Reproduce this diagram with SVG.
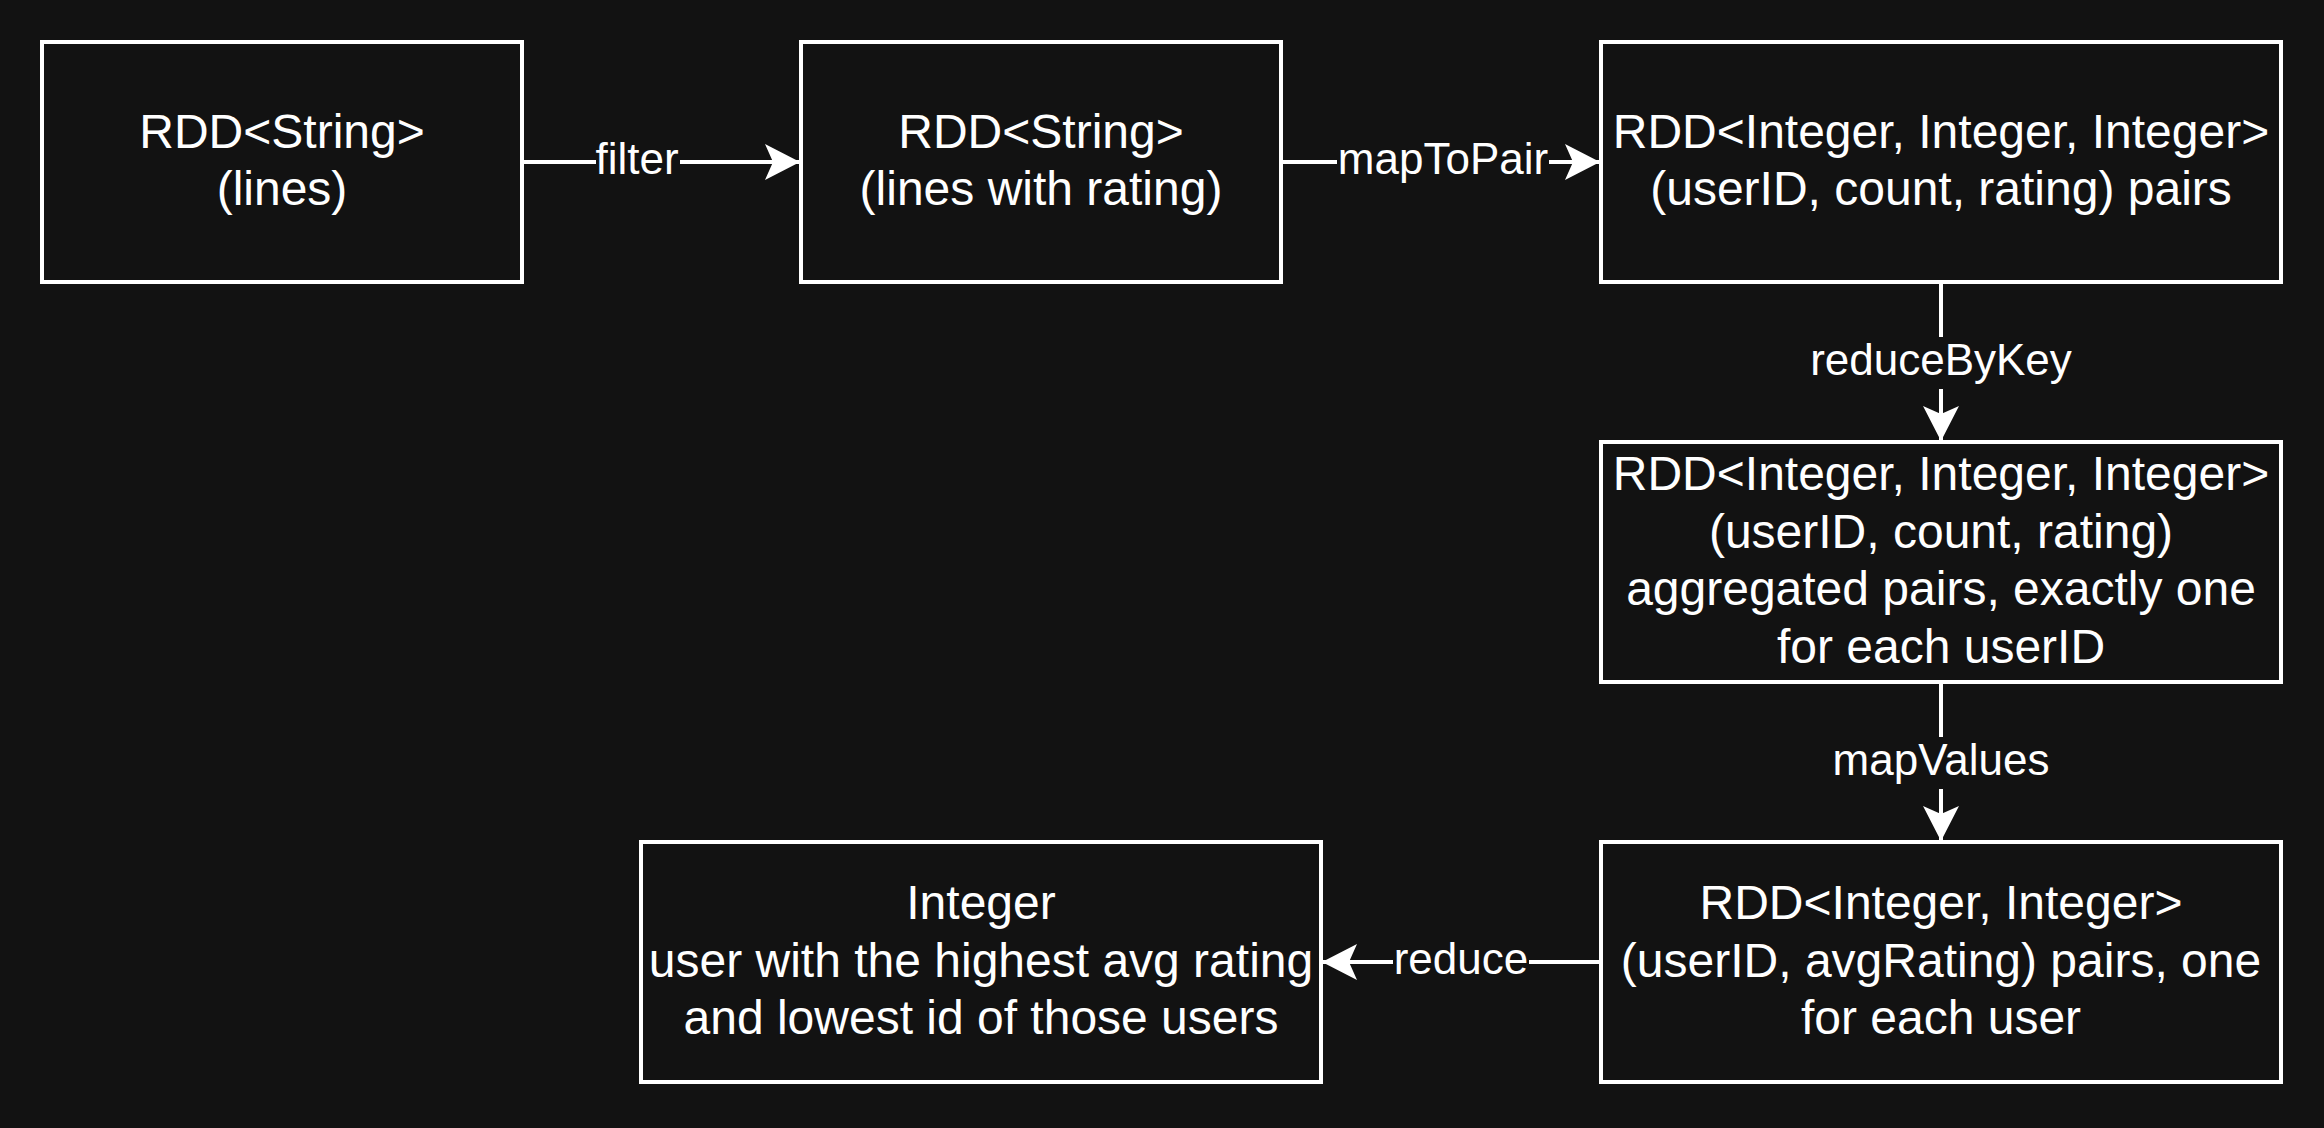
<svg xmlns="http://www.w3.org/2000/svg" width="2324" height="1128" viewBox="0 0 2324 1128">
<style>
.node{fill:#121212;stroke:#ffffff;stroke-width:4}
.t{font-family:"Liberation Sans",Arial,sans-serif;font-size:48px;fill:#ffffff;text-anchor:middle}
.lbl{font-family:"Liberation Sans",Arial,sans-serif;font-size:44px;fill:#ffffff;text-anchor:middle}
.edge{stroke:#ffffff;stroke-width:4;fill:none}
.lb{fill:#121212}
</style>
<defs>
<marker id="arr" markerUnits="userSpaceOnUse" viewBox="-37 -19 39 38" refX="0" refY="0" markerWidth="39" markerHeight="38" orient="auto">
<path d="M0,0 L-35,-18 L-27,0 L-35,18 Z" fill="#ffffff"/>
</marker>
</defs>
<rect width="2324" height="1128" fill="#121212"/>
<g id="connectors">
<line class="edge" x1="522" y1="162" x2="800" y2="162" marker-end="url(#arr)"/>
<line class="edge" x1="1281" y1="162" x2="1600" y2="162" marker-end="url(#arr)"/>
<line class="edge" x1="1941" y1="282" x2="1941" y2="441" marker-end="url(#arr)"/>
<line class="edge" x1="1941" y1="682" x2="1941" y2="841" marker-end="url(#arr)"/>
<line class="edge" x1="1601" y1="962" x2="1322" y2="962" marker-end="url(#arr)"/>
<rect class="lb" x="596" y="136" width="84" height="52"/>
<text class="lbl" x="637" y="174">filter</text>
<rect class="lb" x="1337" y="136" width="212" height="52"/>
<text class="lbl" x="1443" y="174">mapToPair</text>
<rect class="lb" x="1808" y="337" width="266" height="52"/>
<text class="lbl" x="1941" y="375">reduceByKey</text>
<rect class="lb" x="1830" y="737" width="222" height="52"/>
<text class="lbl" x="1941" y="775">mapValues</text>
<rect class="lb" x="1393" y="936" width="136" height="52"/>
<text class="lbl" x="1461" y="974">reduce</text>
</g>
<g id="n1">
<rect class="node" x="42" y="42" width="480" height="240"/>
<text class="t" x="282" y="148">RDD&lt;String&gt;</text>
<text class="t" x="282" y="205">(lines)</text>
</g>
<g id="n2">
<rect class="node" x="801" y="42" width="480" height="240"/>
<text class="t" x="1041" y="148">RDD&lt;String&gt;</text>
<text class="t" x="1041" y="205">(lines with rating)</text>
</g>
<g id="n3">
<rect class="node" x="1601" y="42" width="680" height="240"/>
<text class="t" x="1941" y="148">RDD&lt;Integer, Integer, Integer&gt;</text>
<text class="t" x="1941" y="205">(userID, count, rating) pairs</text>
</g>
<g id="n4">
<rect class="node" x="1601" y="442" width="680" height="240"/>
<text class="t" x="1941" y="490">RDD&lt;Integer, Integer, Integer&gt;</text>
<text class="t" x="1941" y="548">(userID, count, rating)</text>
<text class="t" x="1941" y="605">aggregated pairs, exactly one</text>
<text class="t" x="1941" y="663">for each userID</text>
</g>
<g id="n5">
<rect class="node" x="1601" y="842" width="680" height="240"/>
<text class="t" x="1941" y="919">RDD&lt;Integer, Integer&gt;</text>
<text class="t" x="1941" y="977">(userID, avgRating) pairs, one</text>
<text class="t" x="1941" y="1034">for each user</text>
</g>
<g id="n6">
<rect class="node" x="641" y="842" width="680" height="240"/>
<text class="t" x="981" y="919">Integer</text>
<text class="t" x="981" y="977">user with the highest avg rating</text>
<text class="t" x="981" y="1034">and lowest id of those users</text>
</g>
</svg>
